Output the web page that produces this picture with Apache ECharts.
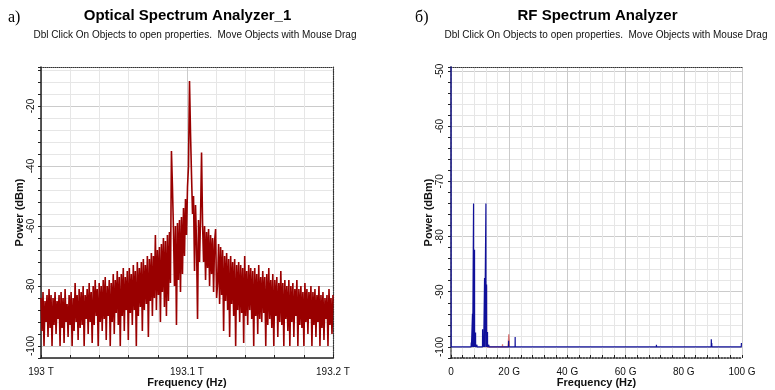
<!DOCTYPE html>
<html>
<head>
<meta charset="utf-8">
<script src="https://cdn.jsdelivr.net/npm/echarts@6/dist/echarts.min.js"></script>
<style>
  html, body { margin: 0; padding: 0; background: #ffffff; }
  #chart { width: 775px; height: 390px; }
</style>
</head>
<body>
<div id="chart"></div>
<script>
// ---- Optical spectrum: power (dBm) sampled on a uniform frequency grid ----
const osaFreqStartGHz = 193000;
const osaFreqStopGHz = 193200;
const osaPowerDbm = [
  -84, -95, -82, -100, -85, -92, -83, -97, -81, -94,
  -83, -100, -84, -93, -82, -96, -85, -91, -83, -100,
  -82, -94, -84, -99, -81, -92, -86, -97, -83, -93,
  -82, -100, -84, -95, -79, -92, -83, -98, -81, -94,
  -82, -93, -80, -100, -83, -91, -81, -96, -79, -92,
  -82, -99, -80, -93, -78, -90, -81, -100, -79, -92,
  -80, -95, -78, -91, -77, -98, -80, -90, -78, -100,
  -79, -92, -76, -96, -78, -89, -75, -93, -77, -100,
  -76, -90, -74, -95, -77, -88, -75, -98, -74, -89,
  -76, -93, -73, -88, -75, -100, -72, -90, -74, -87,
  -72, -95, -71, -88, -73, -86, -70, -97, -71, -85,
  -69, -90, -70, -84, -63, -88, -68, -83, -67, -92,
  -66, -82, -64, -87, -65, -90, -63, -85, -62, -79,
  -35, -47, -61, -80, -60, -93, -59, -78, -58, -82,
  -57, -76, -54, -70, -51, -63, -47, -40, -11.7, -29,
  -43, -56, -50, -75, -53, -66, -91, -58, -72, -57,
  -35.5, -59, -72, -60, -78, -62, -74, -61, -80, -63,
  -76, -64, -82, -65, -61, -84, -79, -66, -86, -67,
  -83, -68, -95, -70, -85, -69, -88, -71, -97, -70,
  -86, -72, -90, -71, -100, -73, -88, -72, -92, -73,
  -89, -74, -99, -70, -90, -75, -93, -73, -88, -74,
  -91, -75, -100, -74, -90, -76, -96, -73, -91, -77,
  -92, -75, -89, -77, -100, -76, -93, -74, -91, -78,
  -94, -76, -100, -78, -90, -77, -97, -79, -92, -75,
  -93, -79, -100, -78, -91, -80, -95, -78, -100, -80,
  -92, -79, -97, -81, -90, -78, -100, -81, -93, -80,
  -94, -82, -100, -79, -92, -81, -96, -82, -91, -80,
  -100, -82, -93, -81, -97, -83, -92, -80, -100, -83,
  -94, -82, -98, -84, -91, -83, -100, -81, -93, -84, -96, -83
];
const osaTickValues = [193000, 193100, 193200];
const osaTickTexts = ['193 T', '193.1 T', '193.2 T'];

// ---- RF spectrum: main (blue) trace and secondary (red) trace ----
const rfFreqGHz = [
  0, 0.05, 6.9, 6.96, 7.02, 7.3, 7.38, 7.45, 7.72, 7.75, 7.78, 8.06, 8.09, 8.12, 8.41, 8.44, 8.47, 8.89, 8.92, 8.95,
  10.82, 10.85, 10.88, 11.17, 11.2, 11.23, 11.5, 11.53, 11.56, 11.97, 12.0, 12.03, 12.2, 12.23, 12.26, 12.52, 12.55, 12.58, 12.97, 13.0, 13.03,
  19.77, 19.8, 19.83, 22.02, 22.05, 22.08, 70.57, 70.6, 70.63,
  89.42, 89.45, 89.5, 89.6, 89.65, 99.75, 99.8, 100
];
const rfPowerDbm = [
  -40, -100, -100, -99.2, -100, -100, -94, -100, -100, -74, -100, -100, -82.4, -100, -100, -97.4, -100, -100, -99.6, -100,
  -100, -96.8, -100, -100, -98, -100, -100, -87.5, -100, -100, -74, -100, -100, -88.7, -100, -100, -97.3, -100, -100, -99.6, -100,
  -100, -98.9, -100, -100, -98.2, -100, -100, -99.6, -100,
  -100, -98.6, -100, -99.3, -100, -100, -99.3, -99.3
];
const rfAuxFreqGHz = [12.15, 12.2, 12.25, 17.65, 17.7, 17.75, 19.6, 19.85, 20.1];
const rfAuxPowerDbm = [-100, -89, -100, -100, -99.5, -100, -100, -97.7, -100];
const rfTickValues = [0, 20, 40, 60, 80, 100];
const rfTickTexts = ['0', '20 G', '40 G', '60 G', '80 G', '100 G'];

// ---- styling ----
const SANS = '"Liberation Sans", Arial, sans-serif';
const SERIF = '"Liberation Serif", "Times New Roman", serif';
const GRID_MINOR = '#e6e6e6';
const GRID_MAJOR = '#cbcbcb';
const AXIS_DARK = '#222222';

const osaStep = (osaFreqStopGHz - osaFreqStartGHz) / (osaPowerDbm.length - 1);
const osaData = osaPowerDbm.map((p, i) => [osaFreqStartGHz + i * osaStep, p]);
const rfData = rfFreqGHz.map((f, i) => [f, rfPowerDbm[i]]);
const rfAuxData = rfAuxFreqGHz.map((f, i) => [f, rfAuxPowerDbm[i]]);

function lookupLabel(values, texts) {
  return v => {
    const k = values.findIndex(t => Math.abs(t - v) < 1e-6);
    return k >= 0 ? texts[k] : '';
  };
}

const tickLabelStyle = { fontFamily: SANS, fontSize: 10, color: '#111' };
const axisNameStyle = { fontFamily: SANS, fontSize: 11, fontWeight: 'bold', color: '#111' };

function frameAxis(gridIndex, position, min, max, color, width) {
  return {
    type: 'value', gridIndex, position, min, max,
    axisLine: { show: true, lineStyle: { color, width, type: 'dotted' } },
    axisTick: { show: false }, axisLabel: { show: false }, splitLine: { show: false }
  };
}

const option = {
  animation: false,
  grid: [
    { left: 41, top: 67, width: 292, height: 291, containLabel: false, outerBoundsMode: 'none' },
    { left: 451, top: 67, width: 291, height: 291, containLabel: false, outerBoundsMode: 'none' }
  ],
  xAxis: [
    {
      type: 'value', gridIndex: 0, min: osaFreqStartGHz, max: osaFreqStopGHz, interval: 20,
      name: 'Frequency (Hz)', nameLocation: 'middle', nameGap: 19, nameMoveOverlap: false, nameTextStyle: axisNameStyle,
      axisLine: { lineStyle: { color: AXIS_DARK, width: 1.5 } },
      axisTick: { inside: true, length: 3, lineStyle: { color: AXIS_DARK } },
      axisLabel: Object.assign({ margin: 9, showMinLabel: true, showMaxLabel: true,
        formatter: lookupLabel(osaTickValues, osaTickTexts) }, tickLabelStyle),
      splitLine: { show: true, lineStyle: { color: [GRID_MAJOR, GRID_MINOR, GRID_MINOR, GRID_MINOR, GRID_MINOR], width: 1 } }
    },
    {
      type: 'value', gridIndex: 1, min: 0, max: 100, interval: 4,
      name: 'Frequency (Hz)', nameLocation: 'middle', nameGap: 19, nameMoveOverlap: false, nameTextStyle: axisNameStyle,
      axisLine: { lineStyle: { color: AXIS_DARK, width: 1.5, type: 'dotted' } },
      axisTick: { inside: true, length: 3, lineStyle: { color: AXIS_DARK } },
      axisLabel: Object.assign({ margin: 9, showMinLabel: true, showMaxLabel: true,
        formatter: lookupLabel(rfTickValues, rfTickTexts) }, tickLabelStyle),
      splitLine: { show: true, lineStyle: { color: [GRID_MAJOR, GRID_MINOR, GRID_MINOR, GRID_MINOR, GRID_MINOR], width: 1 } }
    },
    frameAxis(0, 'top', osaFreqStartGHz, osaFreqStopGHz, '#333', 1),
    frameAxis(1, 'top', 0, 100, '#333', 1)
  ],
  yAxis: [
    {
      type: 'value', gridIndex: 0, min: -104, max: -7, interval: 4,
      name: 'Power (dBm)', nameLocation: 'middle', nameGap: 16, nameRotate: 90, nameMoveOverlap: false, nameTextStyle: axisNameStyle,
      axisLine: { show: true, lineStyle: { color: AXIS_DARK, width: 1.5 } },
      axisTick: { show: true, length: 3, lineStyle: { color: AXIS_DARK } },
      axisLabel: Object.assign({ rotate: 90, margin: 5, showMinLabel: true, showMaxLabel: true,
        formatter: v => (Math.round(v) === v && v % 20 === 0 ? String(v) : '') }, tickLabelStyle),
      splitLine: { show: true, lineStyle: { color: [GRID_MINOR, GRID_MAJOR, GRID_MINOR, GRID_MINOR, GRID_MINOR], width: 1 } }
    },
    {
      type: 'value', gridIndex: 1, min: -102, max: -49.3, interval: 2,
      name: 'Power (dBm)', nameLocation: 'middle', nameGap: 17, nameRotate: 90, nameMoveOverlap: false, nameTextStyle: axisNameStyle,
      axisLine: { show: true, lineStyle: { color: AXIS_DARK, width: 1.5 } },
      axisTick: { show: true, length: 3, lineStyle: { color: AXIS_DARK } },
      axisLabel: Object.assign({ rotate: 90, margin: 6, showMinLabel: true, showMaxLabel: true,
        formatter: v => (Math.round(v) === v && v % 10 === 0 ? String(v) : '') }, tickLabelStyle),
      splitLine: { show: true, lineStyle: { color: [GRID_MINOR, GRID_MAJOR, GRID_MINOR, GRID_MINOR, GRID_MINOR], width: 1 } }
    },
    frameAxis(0, 'right', -104, -7, '#333', 1.2),
    frameAxis(1, 'right', -102, -49.3, '#8a8a8a', 2)
  ],
  series: [
    {
      type: 'line', xAxisIndex: 0, yAxisIndex: 0, data: osaData,
      symbol: 'none', clip: true, silent: true,
      lineStyle: { color: '#990000', width: 1.6 }
    },
    {
      type: 'line', xAxisIndex: 1, yAxisIndex: 1, data: rfAuxData,
      symbol: 'none', clip: true, silent: true,
      lineStyle: { color: '#d05050', width: 1.2, opacity: 0.8 }
    },
    {
      type: 'line', xAxisIndex: 1, yAxisIndex: 1, data: rfData,
      symbol: 'none', clip: true, silent: true,
      lineStyle: { color: '#10109a', width: 1.2 }
    }
  ],
  graphic: [
    { type: 'text', x: 8, y: 18, style: { text: 'а)', font: '16px ' + SERIF, fill: '#000', align: 'left', verticalAlign: 'middle' } },
    { type: 'text', x: 187.5, y: 16, style: { text: 'Optical Spectrum Analyzer_1', font: 'bold 15px ' + SANS, fill: '#000', align: 'center', verticalAlign: 'middle' } },
    { type: 'text', x: 195, y: 35, style: { text: 'Dbl Click On Objects to open properties.  Move Objects with Mouse Drag', font: '10px ' + SANS, fill: '#111', align: 'center', verticalAlign: 'middle' } },
    { type: 'text', x: 415, y: 18, style: { text: 'б)', font: '16px ' + SERIF, fill: '#000', align: 'left', verticalAlign: 'middle' } },
    { type: 'text', x: 597.5, y: 16, style: { text: 'RF Spectrum Analyzer', font: 'bold 15px ' + SANS, fill: '#000', align: 'center', verticalAlign: 'middle' } },
    { type: 'text', x: 606, y: 35, style: { text: 'Dbl Click On Objects to open properties.  Move Objects with Mouse Drag', font: '10px ' + SANS, fill: '#111', align: 'center', verticalAlign: 'middle' } }
  ]
};

const chart = echarts.init(document.getElementById('chart'), null, { renderer: 'canvas' });
chart.setOption(option);
</script>
</body>
</html>
